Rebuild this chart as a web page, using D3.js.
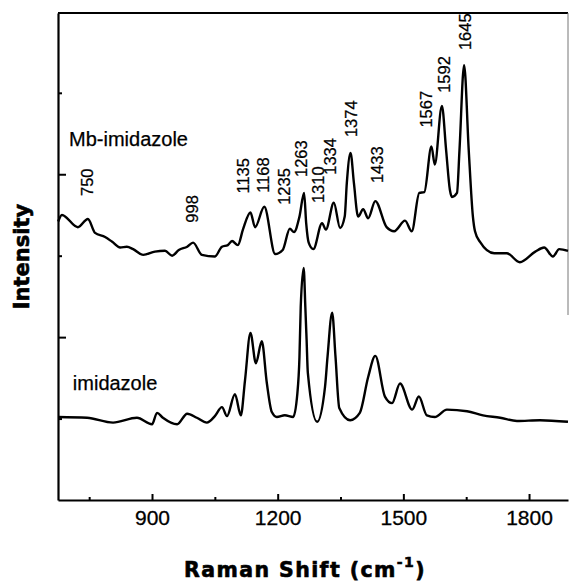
<!DOCTYPE html>
<html>
<head>
<meta charset="utf-8">
<script src="https://cdn.jsdelivr.net/npm/d3@7"></script>
<style>
  body { margin: 0; background: #fff; }
  svg { display: block; }
</style>
</head>
<body>
<div id="chart"></div>
<script>
// Raman spectra (shift in cm-1, intensity in arbitrary units)
const mbShift = [676, 685, 723, 747, 764, 788, 805, 824, 840, 855, 879, 907, 931, 948, 964, 984, 998,
  1019, 1050, 1067, 1081, 1091, 1105, 1117, 1135, 1146, 1168, 1194, 1212, 1229, 1239, 1252, 1263,
  1268, 1274, 1285, 1306, 1315, 1334, 1349, 1360, 1365, 1374, 1382, 1392, 1404, 1416, 1433, 1460,
  1478, 1504, 1520, 1538, 1550, 1567, 1575, 1592, 1602, 1611, 1616, 1628, 1634, 1645, 1656, 1666,
  1671, 1683, 1717, 1747, 1778, 1815, 1836, 1857, 1872, 1893];
const mbInt = [3.42, 3.50, 3.35, 3.45, 3.28, 3.23, 3.17, 3.10, 3.11, 3.08, 3.01, 3.05, 3.06, 3.00, 3.07, 3.11, 3.16,
  3.01, 2.99, 3.11, 3.13, 3.18, 3.13, 3.32, 3.53, 3.35, 3.60, 3.02, 3.07, 3.33, 3.29, 3.48, 3.77,
  3.40, 3.16, 3.08, 3.40, 3.32, 3.65, 3.34, 3.48, 3.89, 4.26, 3.89, 3.48, 3.57, 3.46, 3.67, 3.35,
  3.30, 3.43, 3.30, 3.77, 3.78, 4.34, 4.12, 4.84, 4.30, 3.81, 3.72, 3.77, 4.30, 5.34, 4.30, 3.48,
  3.30, 3.17, 3.03, 3.03, 2.92, 3.05, 3.10, 2.99, 3.08, 3.06];

const imShift = [676, 745, 807, 864, 900, 912, 926, 960, 984, 1007, 1031, 1050, 1067, 1079, 1098, 1112,
  1122, 1135, 1148, 1162, 1174, 1186, 1198, 1217, 1237, 1247, 1252, 1255, 1262, 1266, 1269, 1272,
  1294, 1313, 1319, 1330, 1338, 1347, 1373, 1396, 1416, 1433, 1456, 1473, 1492, 1521, 1537, 1556,
  1575, 1604, 1652, 1690, 1731, 1771, 1826, 1893];
const imInt = [1.02, 1.01, 0.95, 1.01, 0.93, 1.07, 1.01, 0.93, 1.06, 1.01, 0.95, 1.03, 1.14, 1.03, 1.30, 1.04,
  1.47, 2.05, 1.68, 1.95, 1.44, 1.08, 1.02, 1.04, 1.02, 1.31, 1.76, 2.37, 2.85, 2.37, 1.97, 1.56,
  0.96, 1.39, 1.76, 2.30, 1.76, 1.13, 0.98, 1.07, 1.51, 1.77, 1.27, 1.19, 1.43, 1.11, 1.27, 1.04,
  1.02, 1.11, 1.09, 1.04, 1.01, 0.97, 0.98, 0.96];

const peakLabels = [750, 998, 1135, 1168, 1235, 1263, 1310, 1334, 1374, 1433, 1567, 1592, 1645];
const xTicks = [900, 1200, 1500, 1800];
const xMinor = [750, 1050, 1350, 1650];
const yMajor = [2, 4];
const yMinor = [1, 3, 5];

// label placement tweaks (px): baseline offset from peak, gap above the curve
const labelDx = [4, 5, -1, 5, -2, 3, 0, 2, 6, 8, 1, 8, 7];
const labelGap = [23, 20, 19, 14, 24, 16, 20, 28, 16, 18, 19, 13, 15];

const W = 569, H = 582;
const mLeft = 58, mRight = 568, mTop = 13, mBottom = 500;
const serif = "Liberation Sans, Arial, sans-serif";

const svg = d3.select("#chart").append("svg")
  .attr("width", W).attr("height", H);

const x = d3.scaleLinear().domain([675.6, 1893]).range([mLeft, mRight]);
const y = d3.scaleLinear().domain([0, 5.98]).range([mBottom, mTop]);

const mb = mbShift.map((s, i) => ({ s: s, v: mbInt[i] }));
const im = imShift.map((s, i) => ({ s: s, v: imInt[i] }));

const line = d3.line()
  .x(d => x(d.s))
  .y(d => y(d.v))
  .curve(d3.curveMonotoneX);

// frame
svg.append("line").attr("x1", mLeft).attr("x2", mRight).attr("y1", mTop).attr("y2", mTop)
  .attr("stroke", "#000").attr("stroke-width", 2.2);
svg.append("line").attr("x1", mRight).attr("x2", mRight).attr("y1", mTop).attr("y2", 315)
  .attr("stroke", "#777").attr("stroke-width", 1);

// bottom axis
const xAxis = svg.append("g").attr("transform", "translate(0," + mBottom + ")")
  .call(d3.axisBottom(x).tickValues(xTicks).tickFormat(d3.format("d"))
    .tickSize(-6).tickSizeOuter(0).tickPadding(10));
svg.append("g").attr("transform", "translate(0," + mBottom + ")")
  .call(d3.axisBottom(x).tickValues(xMinor).tickSize(-3).tickSizeOuter(0).tickFormat(""))
  .call(g => g.select(".domain").remove());

// left axis
svg.append("g").attr("transform", "translate(" + mLeft + ",0)")
  .call(d3.axisLeft(y).tickValues(yMajor).tickSize(-8).tickSizeOuter(0).tickFormat(""));
svg.append("g").attr("transform", "translate(" + mLeft + ",0)")
  .call(d3.axisLeft(y).tickValues(yMinor).tickSize(-4).tickSizeOuter(0).tickFormat(""))
  .call(g => g.select(".domain").remove());

svg.selectAll(".domain").attr("stroke", "#000").attr("stroke-width", 2.2);
svg.selectAll(".tick line").attr("stroke", "#000").attr("stroke-width", 2);
xAxis.selectAll("text")
  .attr("font-family", serif)
  .attr("font-size", 21).attr("fill", "#000")
  .attr("stroke", "#000").attr("stroke-width", 0.3);

// spectra
[mb, im].forEach(series => {
  svg.append("path").datum(series).attr("d", line)
    .attr("fill", "none").attr("stroke", "#000").attr("stroke-width", 2.4)
    .attr("stroke-linejoin", "round");
});

// peak labels
svg.selectAll(".peak").data(peakLabels).enter().append("text")
  .attr("class", "peak")
  .attr("transform", (p, i) => {
    const near = mb.filter(d => Math.abs(d.s - p) <= 10);
    const vmax = d3.max(near, d => d.v);
    return "translate(" + (x(p) + labelDx[i]) + "," + (y(vmax) - labelGap[i]) + ") rotate(-90)";
  })
  .attr("font-family", serif)
  .attr("font-size", 16.5)
  .attr("stroke", "#000").attr("stroke-width", 0.25)
  .text(p => p);

// curve names
svg.append("text").attr("x", x(702)).attr("y", y(4.35))
  .attr("font-family", serif).attr("font-size", 20)
  .attr("stroke", "#000").attr("stroke-width", 0.25)
  .text("Mb-imidazole");
svg.append("text").attr("x", x(711)).attr("y", y(1.35))
  .attr("font-family", serif).attr("font-size", 20)
  .attr("stroke", "#000").attr("stroke-width", 0.25)
  .text("imidazole");

// axis titles
svg.append("text")
  .attr("transform", "translate(29," + (mTop + mBottom) / 2 + ") rotate(-90)")
  .attr("text-anchor", "middle")
  .attr("font-family", "DejaVu Sans, sans-serif").attr("font-weight", "bold")
  .attr("font-size", 21).attr("stroke", "#000").attr("stroke-width", 0.6)
  .text("Intensity");

const xt = svg.append("text")
  .attr("x", 305).attr("y", 577)
  .attr("text-anchor", "middle")
  .attr("font-family", "DejaVu Sans, sans-serif").attr("font-weight", "bold")
  .attr("font-size", 20.5).attr("letter-spacing", 1.4)
  .attr("stroke", "#000").attr("stroke-width", 0.6);
xt.append("tspan").text("Raman Shift (cm");
xt.append("tspan").attr("font-size", 14).attr("dy", -10).text("-1");
xt.append("tspan").attr("dy", 10).text(")");
</script>
</body>
</html>
